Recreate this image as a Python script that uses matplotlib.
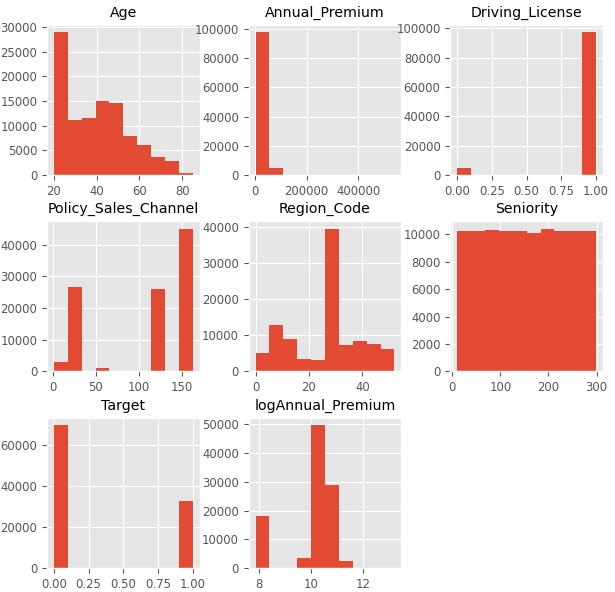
import numpy as np
import matplotlib
matplotlib.use("Agg")
import matplotlib.pyplot as plt

plt.style.use("ggplot")
plt.rcParams["xtick.labelsize"] = 8.4
plt.rcParams["ytick.labelsize"] = 8.4
plt.rcParams["axes.titlesize"] = 10.2

# column names, value ranges (min, max) and the 10 bin counts
columns = ["Age", "Annual_Premium", "Driving_License", "Policy_Sales_Channel",
           "Region_Code", "Seniority", "Target", "logAnnual_Premium"]

age_range = (20, 85)
age_counts = [29000, 11200, 11600, 14900, 14500, 7800, 6000, 3600, 2800, 300]

premium_range = (2630, 540165)
premium_counts = [98000, 5000, 150, 40, 15, 8, 5, 3, 2, 1]

license_range = (0, 1)
license_counts = [5000, 0, 0, 0, 0, 0, 0, 0, 0, 97500]

channel_range = (1, 163)
channel_counts = [3100, 26600, 300, 1200, 200, 200, 200, 26000, 300, 45100]

region_range = (0, 52)
region_counts = [5200, 12900, 9000, 3500, 3300, 39500, 7400, 8500, 7700, 6300]

seniority_range = (10, 299)
seniority_counts = [10250, 10250, 10320, 10250, 10250, 10100, 10400, 10250, 10250, 10250]

target_range = (0, 1)
target_counts = [69700, 0, 0, 0, 0, 0, 0, 0, 0, 32500]

logprem_range = (7.875, 13.2)
logprem_counts = [18000, 0, 0, 3400, 49700, 29000, 2500, 120, 15, 5]

ranges = [age_range, premium_range, license_range, channel_range,
          region_range, seniority_range, target_range, logprem_range]
counts = [age_counts, premium_counts, license_counts, channel_counts,
          region_counts, seniority_counts, target_counts, logprem_counts]

# tick positions as shown in the reference
xticks = [[20, 40, 60, 80], [0, 200000, 400000], [0, 0.25, 0.5, 0.75, 1.0],
          [0, 50, 100, 150], [0, 20, 40], [0, 100, 200, 300],
          [0, 0.25, 0.5, 0.75, 1.0], [8, 10, 12]]
yticks = [range(0, 30001, 5000), range(0, 100001, 20000), range(0, 100001, 20000),
          range(0, 40001, 10000), range(0, 40001, 10000), range(0, 10001, 2000),
          range(0, 60001, 20000), range(0, 50001, 10000)]

fig, axes = plt.subplots(3, 3, figsize=(6.15, 5.92), dpi=100)
fig.subplots_adjust(left=0.0764, right=0.9805, top=0.958, bottom=0.0405,
                    wspace=0.32, hspace=0.31)

for i, (ax, name, rng, cnt) in enumerate(zip(axes.flat, columns, ranges, counts)):
    edges = np.linspace(rng[0], rng[1], 11)
    centers = (edges[:-1] + edges[1:]) / 2
    ax.hist(centers, bins=edges, weights=cnt)
    ax.set_title(name)
    ax.set_xticks(xticks[i])
    ax.set_yticks(list(yticks[i]))

axes.flat[8].remove()

plt.savefig("out.png")
